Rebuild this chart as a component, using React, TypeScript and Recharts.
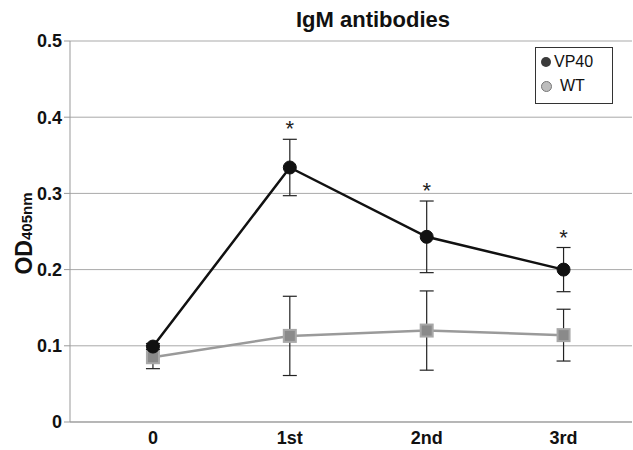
import React from "react";
import {
  ComposedChart,
  Line,
  Scatter,
  XAxis,
  YAxis,
  CartesianGrid,
  ErrorBar,
  Label,
} from "recharts";

const categories = ["0", "1st", "2nd", "3rd"];
const vp40Values = [0.099, 0.334, 0.243, 0.2];
const vp40Errors = [0.004, 0.037, 0.047, 0.029];
const wtValues = [0.085, 0.113, 0.12, 0.114];
const wtErrors = [0.015, 0.052, 0.052, 0.034];
const significant = [false, true, true, true];
const yTicks = [0, 0.1, 0.2, 0.3, 0.4, 0.5];

const data = categories.map((c, i) => ({
  x: i,
  name: c,
  vp40: vp40Values[i],
  vp40Err: vp40Errors[i],
  wt: wtValues[i],
  wtErr: wtErrors[i],
  star: significant[i] ? vp40Values[i] + vp40Errors[i] : null,
}));

const FONT = "'Liberation Sans', Arial, sans-serif";

const Square = (props: any) => {
  const { cx, cy } = props;
  if (cx == null || cy == null) return null;
  return (
    <rect x={cx - 6} y={cy - 6} width={12} height={12} fill="#8a8a8a" stroke="#a8a8a8" strokeWidth={2} />
  );
};

const Dot = (props: any) => {
  const { cx, cy } = props;
  if (cx == null || cy == null) return null;
  return <circle cx={cx} cy={cy} r={6.5} fill="#111" stroke="#111" />;
};

const Star = (props: any) => {
  const { cx, cy, payload } = props;
  if (cx == null || cy == null || payload.star == null) return null;
  return (
    <text x={cx} y={cy - 3} textAnchor="middle" fontSize={22} fontFamily={FONT} fill="#222">
      *
    </text>
  );
};

const YLabel = (props: any) => {
  const vb = props.viewBox || {};
  const cx = 32;
  const cy = vb.y + vb.height / 2 + 2;
  return (
    <text
      transform={`translate(${cx},${cy}) rotate(-90)`}
      textAnchor="middle"
      fontFamily={FONT}
      fontWeight="bold"
      fill="#111"
    >
      <tspan fontSize={23}>OD</tspan>
      <tspan fontSize={15}>405nm</tspan>
    </text>
  );
};

export default function App() {
  return (
    <div style={{ position: "absolute", left: 0, top: 0, width: 633, height: 450, background: "#fff", fontFamily: FONT }}>
      <ComposedChart
        width={633}
        height={450}
        data={data}
        margin={{ top: 41, right: 1, left: 0, bottom: 0 }}
      >
        <CartesianGrid vertical={false} stroke="#a9a9a9" strokeWidth={1} />
        <XAxis
          dataKey="x"
          type="number"
          domain={[-0.606, 3.5]}
          ticks={[0, 1, 2, 3]}
          tickFormatter={(v: number) => categories[v]}
          height={28}
          axisLine={{ stroke: "#999" }}
          tickLine={false}
          tick={{ fontSize: 18, fontWeight: "bold", fill: "#111", fontFamily: FONT }}
          tickMargin={3}
        />
        <YAxis
          type="number"
          domain={[0, 0.5]}
          ticks={yTicks}
          width={70}
          axisLine={{ stroke: "#999" }}
          tickLine={{ stroke: "#999" }}
          tickSize={6}
          tickMargin={2}
          tick={{ fontSize: 18, fontWeight: "bold", fill: "#111", fontFamily: FONT }}
          tickFormatter={(v: number) => String(v)}
        >
          <Label content={<YLabel />} />
        </YAxis>
        <Line
          dataKey="wt"
          stroke="#9a9a9a"
          strokeWidth={2.5}
          dot={<Square />}
          isAnimationActive={false}
        >
          <ErrorBar dataKey="wtErr" direction="y" width={7} stroke="#222" strokeWidth={1.2} />
        </Line>
        <Line
          dataKey="vp40"
          stroke="#111"
          strokeWidth={2.5}
          dot={<Dot />}
          isAnimationActive={false}
        >
          <ErrorBar dataKey="vp40Err" direction="y" width={7} stroke="#222" strokeWidth={1.2} />
        </Line>
        <Scatter dataKey="star" shape={<Star />} isAnimationActive={false} />
      </ComposedChart>
      <div
        style={{
          position: "absolute",
          left: 0,
          width: 746,
          top: 6,
          textAlign: "center",
          fontSize: 22,
          lineHeight: "28px",
          fontWeight: "bold",
          color: "#111",
        }}
      >
        IgM antibodies
      </div>
      <div
        style={{
          position: "absolute",
          left: 535,
          top: 47,
          width: 76,
          height: 55,
          border: "1px solid #333",
          background: "#fff",
          fontSize: 16,
          color: "#111",
        }}
      >
        <div style={{ position: "absolute", left: 5, top: 5, display: "flex", alignItems: "center" }}>
          <span style={{ display: "inline-block", width: 10, height: 10, borderRadius: 6, background: "#3a3a3a", marginRight: 3 }} />
          VP40
        </div>
        <div style={{ position: "absolute", left: 5, top: 29, display: "flex", alignItems: "center" }}>
          <span style={{ display: "inline-block", width: 9, height: 9, borderRadius: 6, background: "#bdbdbd", border: "1px solid #777", marginRight: 8 }} />
          WT
        </div>
      </div>
    </div>
  );
}
